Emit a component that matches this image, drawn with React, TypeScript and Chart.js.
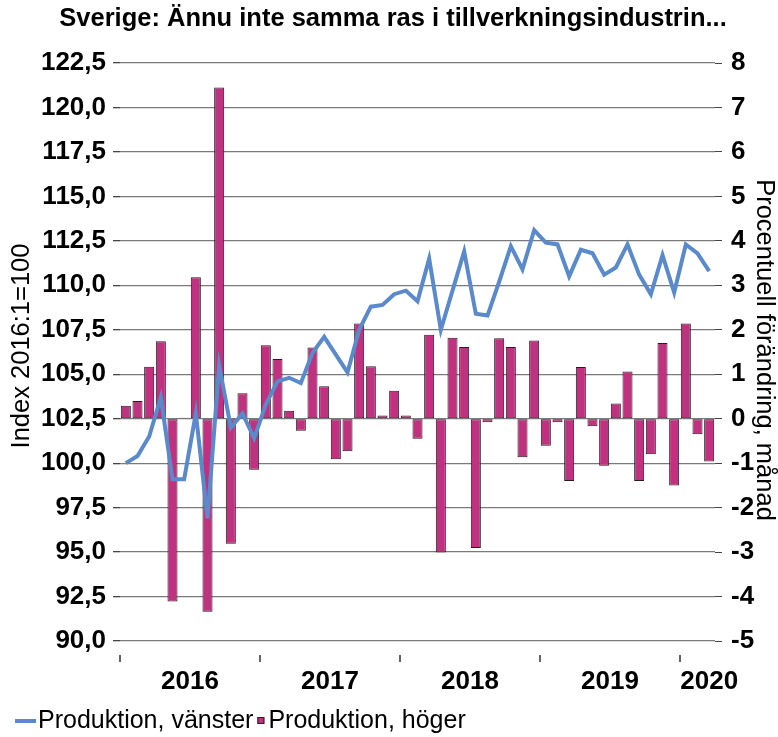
import React, { useEffect, useRef } from "react";
import { Chart, registerables } from "chart.js";

Chart.register(...registerables);

const months: string[] = [
  "2016-01","2016-02","2016-03","2016-04","2016-05","2016-06","2016-07","2016-08","2016-09","2016-10","2016-11","2016-12",
  "2017-01","2017-02","2017-03","2017-04","2017-05","2017-06","2017-07","2017-08","2017-09","2017-10","2017-11","2017-12",
  "2018-01","2018-02","2018-03","2018-04","2018-05","2018-06","2018-07","2018-08","2018-09","2018-10","2018-11","2018-12",
  "2019-01","2019-02","2019-03","2019-04","2019-05","2019-06","2019-07","2019-08","2019-09","2019-10","2019-11","2019-12",
  "2020-01","2020-02","2020-03",
];

const years: string[] = ["2016", "2017", "2018", "2019", "2020"];

const productionIndex: number[] = [
  100.0, 100.4, 101.5, 103.7, 99.1, 99.1, 102.8, 96.9, 105.5, 102.0, 102.8, 101.4,
  103.3, 104.6, 104.8, 104.5, 106.2, 107.1, 106.1, 105.1, 107.5, 108.8, 108.9, 109.5,
  109.7, 109.1, 111.5, 107.5, 109.7, 111.9, 108.4, 108.3, 110.2, 112.2, 110.9, 113.1,
  112.4, 112.3, 110.5, 112.0, 111.8, 110.6, 111.0, 112.3, 110.6, 109.5, 111.7, 109.6,
  112.3, 111.8, 110.8,
];

const productionChange: number[] = [
  0.29, 0.40, 1.17, 1.74, -4.11, 0.02, 3.18, -4.34, 7.45, -2.81, 0.57, -1.15,
  1.65, 1.34, 0.18, -0.27, 1.60, 0.73, -0.91, -0.73, 2.14, 1.18, 0.07, 0.63,
  0.07, -0.45, 1.89, -3.01, 1.82, 1.61, -2.91, -0.08, 1.81, 1.61, -0.87, 1.76,
  -0.61, -0.08, -1.40, 1.16, -0.17, -1.06, 0.34, 1.06, -1.40, -0.80, 1.70, -1.50,
  2.14, -0.35, -0.96,
];

const titleText = "Sverige: Ännu inte samma ras i tillverkningsindustrin...";
const leftTitle = "Index 2016:1=100";
const rightTitle = "Procentuell förändring, månad";
const seriesLine = "Produktion, vänster";
const seriesBar = "Produktion, höger";

const FONT = "'Liberation Sans', Arial, sans-serif";
const LINE_COLOR = "#5A8ACB";
const BAR_COLOR = "#C0317F";
const BAR_BORDER = "#2a1a22";

const decorPlugin = {
  id: "decor",
  afterDraw(chart: any) {
    const ctx = chart.ctx as CanvasRenderingContext2D;
    const area = chart.chartArea;
    const x = chart.scales.x;
    ctx.save();
    // title
    ctx.fillStyle = "#000";
    ctx.font = `bold 25.5px ${FONT}`;
    ctx.textAlign = "center";
    ctx.textBaseline = "middle";
    ctx.fillText(titleText, 393, 19);

    // axis titles
    ctx.font = `25.5px ${FONT}`;
    ctx.save();
    ctx.translate(22, 346);
    ctx.rotate(-Math.PI / 2);
    ctx.fillText(leftTitle, 0, 0);
    ctx.restore();
    ctx.save();
    ctx.translate(764, 350);
    ctx.rotate(Math.PI / 2);
    ctx.fillText(rightTitle, 0, 0);
    ctx.restore();

    // year ticks and labels
    const half = (x.getPixelForValue(1) - x.getPixelForValue(0)) / 2;
    ctx.strokeStyle = "#333";
    ctx.lineWidth = 1.5;
    ctx.font = `bold 26px ${FONT}`;
    years.forEach((yr) => {
      const idx = months.map((m, i) => (m.startsWith(yr) ? i : -1)).filter((i) => i >= 0);
      const first = idx[0];
      const last = idx[idx.length - 1];
      const bx = x.getPixelForValue(first) - half;
      ctx.beginPath();
      ctx.moveTo(bx, area.bottom + 14);
      ctx.lineTo(bx, area.bottom + 21);
      ctx.stroke();
      const cx = idx.length === 12
        ? (x.getPixelForValue(first) + x.getPixelForValue(last)) / 2
        : x.getPixelForValue(last);
      ctx.fillText(yr, cx, area.bottom + 41);
    });

    // legend
    const ly = 721;
    ctx.strokeStyle = LINE_COLOR;
    ctx.lineWidth = 4;
    ctx.beginPath();
    ctx.moveTo(15, ly);
    ctx.lineTo(36, ly);
    ctx.stroke();
    ctx.font = `25px ${FONT}`;
    ctx.textAlign = "left";
    ctx.fillStyle = "#000";
    ctx.fillText(seriesLine, 38, ly);
    const w1 = ctx.measureText(seriesLine).width;
    const sx = 38 + w1 + 4;
    ctx.fillStyle = BAR_COLOR;
    ctx.fillRect(sx, ly - 4, 7, 7);
    ctx.strokeStyle = BAR_BORDER;
    ctx.lineWidth = 1;
    ctx.strokeRect(sx + 0.5, ly - 3.5, 6, 6);
    ctx.fillStyle = "#000";
    ctx.fillText(seriesBar, sx + 11, ly);
    ctx.restore();
  },
};

export default function App() {
  const ref = useRef<HTMLCanvasElement>(null);
  useEffect(() => {
    if (!ref.current) return;
    const chart = new Chart(ref.current, {
      type: "bar",
      data: {
        labels: months,
        datasets: [
          {
            type: "line",
            label: seriesLine,
            data: productionIndex,
            yAxisID: "yL",
            borderColor: LINE_COLOR,
            borderWidth: 4,
            pointRadius: 0,
            tension: 0,
            order: 0,
          } as any,
          {
            type: "bar",
            label: seriesBar,
            data: productionChange,
            yAxisID: "yR",
            backgroundColor: BAR_COLOR,
            borderColor: BAR_BORDER,
            borderWidth: 1,
            borderSkipped: false,
            barPercentage: 0.86,
            categoryPercentage: 1,
            order: 1,
          },
        ],
      },
      options: {
        animation: false,
        responsive: true,
        maintainAspectRatio: false,
        layout: { padding: { top: 63, bottom: 96, left: 0, right: 0 } },
        plugins: {
          legend: { display: false },
          title: { display: false },
          tooltip: { enabled: false },
        },
        scales: {
          x: { display: false, offset: true },
          yL: {
            position: "left",
            min: 90,
            max: 122.5,
            afterBuildTicks: (s: any) => {
              const t = [];
              for (let v = 90; v <= 122.5 + 1e-9; v += 2.5) t.push({ value: v });
              s.ticks = t;
            },
            afterFit: (s: any) => { s.width = 120; },
            border: { display: false },
            grid: { color: "#7a7a7a", lineWidth: 1.3, tickLength: 7, tickColor: "#444" },
            ticks: {
              color: "#000",
              padding: 7,
              font: { family: FONT, size: 26, weight: "bold" },
              callback: (v: any) => Number(v).toFixed(1).replace(".", ","),
            },
          },
          yR: {
            position: "right",
            min: -5,
            max: 8,
            afterFit: (s: any) => { s.width = 63; },
            border: { display: false },
            grid: { drawOnChartArea: false, tickLength: 7, tickColor: "#444" },
            ticks: {
              stepSize: 1,
              color: "#000",
              padding: 9,
              font: { family: FONT, size: 26, weight: "bold" },
            },
          },
        },
      },
      plugins: [decorPlugin],
    });
    return () => chart.destroy();
  }, []);
  return (
    <div style={{ position: "fixed", left: 0, top: 0, width: 778, height: 737 }}>
      <canvas ref={ref} />
    </div>
  );
}
